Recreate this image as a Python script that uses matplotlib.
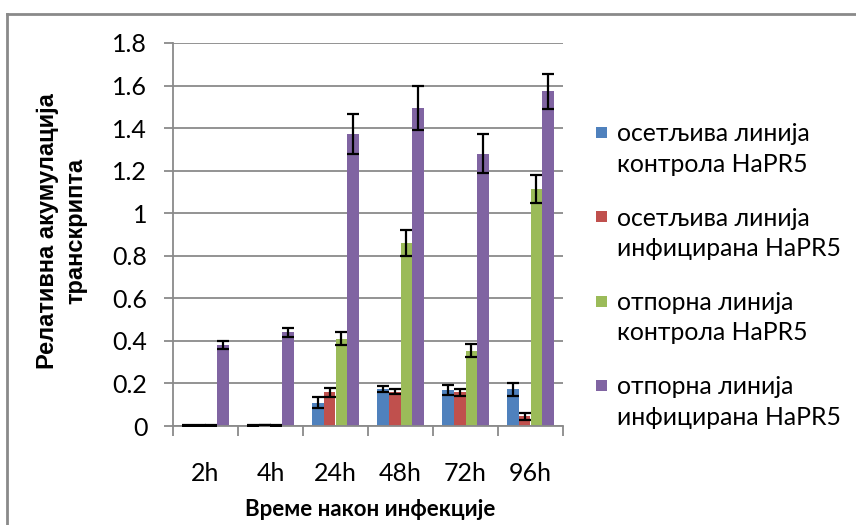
import numpy as np
import matplotlib
matplotlib.use("Agg")
import matplotlib.pyplot as plt
from matplotlib.lines import Line2D
from matplotlib.patches import Rectangle

plt.rcParams['font.family'] = ['Lato', 'DejaVu Sans']

# data
times = ["2h", "4h", "24h", "48h", "72h", "96h"]
series_names = [
    "осетљива линија\nконтрола HaPR5",
    "осетљива линија\nинфицирана HaPR5",
    "отпорна линија\nконтрола HaPR5",
    "отпорна линија\nинфицирана HaPR5",
]
sens_ctrl = [0.002, 0.002, 0.11, 0.175, 0.17, 0.172]
sens_ctrl_err = [0.001, 0.001, 0.025, 0.013, 0.025, 0.03]
sens_inf = [0.003, 0.005, 0.158, 0.162, 0.158, 0.045]
sens_inf_err = [0.001, 0.001, 0.022, 0.012, 0.015, 0.015]
res_ctrl = [0.002, 0.002, 0.41, 0.86, 0.354, 1.114]
res_ctrl_err = [0.001, 0.001, 0.03, 0.06, 0.03, 0.065]
res_inf = [0.38, 0.44, 1.372, 1.494, 1.28, 1.573]
res_inf_err = [0.02, 0.02, 0.092, 0.102, 0.092, 0.082]

values = [sens_ctrl, sens_inf, res_ctrl, res_inf]
errors = [sens_ctrl_err, sens_inf_err, res_ctrl_err, res_inf_err]
colors = ["#4F81BD", "#C0504D", "#9BBB59", "#8064A2"]

W, H = 856, 525
fig = plt.figure(figsize=(W / 100, H / 100), dpi=100)
ax = fig.add_axes([173 / W, 1 - 426 / H, (563 - 173) / W, (426 - 43) / H])

x = np.arange(len(times))
bw = 0.18
for i, (vals, errs, c) in enumerate(zip(values, errors, colors)):
    ax.bar(x + (i - 1.5) * bw, vals, bw, color=c, zorder=2)
    ax.errorbar(x + (i - 1.5) * bw, vals, yerr=errs, fmt="none", ecolor="black",
                elinewidth=1.6, capsize=4, capthick=1.6, zorder=3)

grid_c = "#8A8A8A"
ax.set_xlim(-0.5, len(times) - 0.5)
ax.set_ylim(0, 1.8)
ax.set_yticks(np.arange(0, 1.81, 0.2))
ax.set_yticklabels(["0", "0.2", "0.4", "0.6", "0.8", "1", "1.2", "1.4", "1.6", "1.8"])
ax.yaxis.grid(True, color=grid_c, linewidth=1.3, zorder=0)
ax.set_axisbelow(True)

ax.set_xticks(x)
ax.set_xticklabels(times)
ax.set_xticks(np.arange(-0.5, len(times), 1), minor=True)
ax.tick_params(axis="x", which="major", length=0, pad=26, labelsize=18)
ax.tick_params(axis="x", which="minor", length=7, width=1.3, color=grid_c)
ax.tick_params(axis="y", length=6.5, width=1.3, color=grid_c, pad=12, labelsize=18)

for s in ["top", "right"]:
    ax.spines[s].set_visible(False)
for s in ["left", "bottom"]:
    ax.spines[s].set_color(grid_c)
    ax.spines[s].set_linewidth(1.3)

fig.text(62 / W, 1 - 231 / H, "Релативна акумулација\nтранскрипта", rotation=90,
         ha="center", va="center", fontsize=17, fontweight="bold", linespacing=1.3,
         family=["Liberation Sans", "DejaVu Sans"])
fig.text(370 / W, 1 - 510 / H, "Време након инфекције", ha="center", va="center",
         fontsize=16, fontweight="bold")

# legend drawn by hand: swatch sits beside the first line of each label
for i, (name, c) in enumerate(zip(series_names, colors)):
    y_first = 132 + i * 84.3
    fig.add_artist(Rectangle((596 / W, 1 - (y_first + 6) / H), 11 / W, 11 / H,
                             facecolor=c, edgecolor="none", transform=fig.transFigure))
    fig.text(617 / W, 1 - (y_first + 17) / H, name, ha="left", va="center",
             fontsize=17.8, linespacing=1.38)

# outer chart border (cut off at right and bottom)
fig.add_artist(Line2D([7 / W, 1.0], [1 - 14 / H] * 2, color=grid_c, linewidth=2,
                      transform=fig.transFigure))
fig.add_artist(Line2D([7 / W] * 2, [0, 1 - 14 / H], color=grid_c, linewidth=2,
                      transform=fig.transFigure))

fig.savefig("out.png", dpi=100)
